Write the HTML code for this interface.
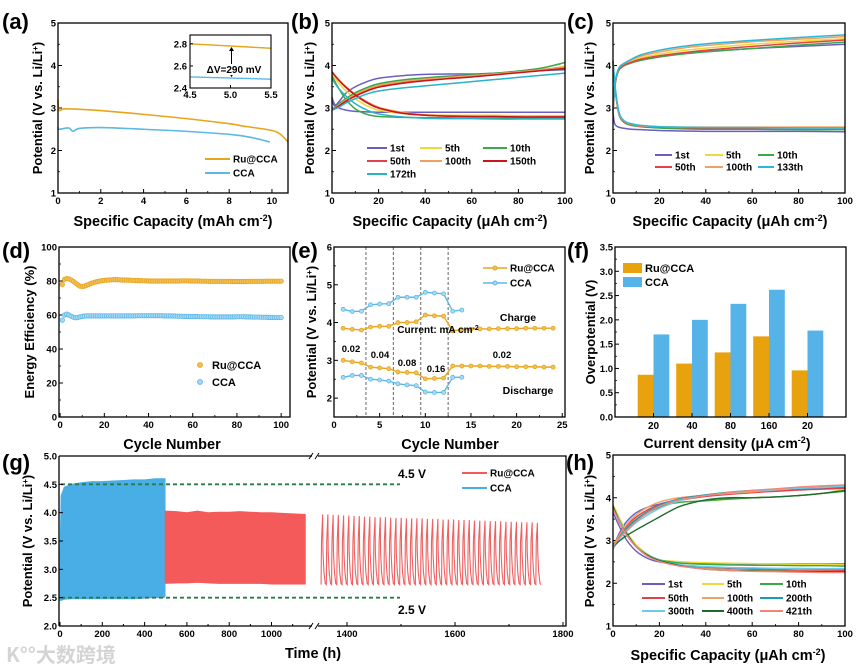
<!DOCTYPE html>
<html><head><meta charset="utf-8">
<style>
html,body{margin:0;padding:0;background:#fff;}
svg{display:block;font-family:"Liberation Sans","Noto Sans CJK SC",sans-serif;}
text{font-weight:bold;}
</style></head>
<body>
<svg id="fig" xmlns="http://www.w3.org/2000/svg" width="859" height="667" viewBox="0 0 859 667">
<text x="6" y="662" font-size="20" fill="#d4d4d4" font-weight="normal" style="font-family:'Noto Sans CJK SC',sans-serif">K°°大数跨境</text>
</svg>
<script>
// ---------- DATA ----------
// (a)
const aRuX=[0,0.05,0.3,1,2,4,6,8,8.7,9,10,10.4,10.75];
const aRuY=[3.2,2.95,2.98,2.97,2.94,2.85,2.75,2.63,2.57,2.55,2.47,2.38,2.2];
const aCcaX=[0,0.05,0.5,0.7,1,2,4,6,8,9,9.9];
const aCcaY=[2.55,2.5,2.53,2.45,2.52,2.54,2.5,2.45,2.38,2.31,2.2];
const insetX=[4.5,5.5];
const insetRu=[2.8,2.76];
const insetCca=[2.5,2.48];
// (b)
const bQ=[0,1,3,6,10,15,20,30,40,50,60,70,80,90,100];
const bNames=['1st','5th','10th','50th','100th','150th','172th'];
const bCharge=[
[3.25,3.05,3.15,3.35,3.5,3.62,3.7,3.76,3.79,3.8,3.8,3.82,3.85,3.88,3.9],
[2.95,3.0,3.08,3.2,3.33,3.45,3.55,3.65,3.7,3.73,3.77,3.8,3.84,3.9,3.98],
[2.95,3.0,3.1,3.22,3.36,3.48,3.57,3.66,3.71,3.75,3.78,3.82,3.87,3.94,4.07],
[2.95,2.98,3.05,3.17,3.3,3.42,3.5,3.6,3.66,3.71,3.75,3.8,3.85,3.9,3.96],
[2.95,2.99,3.07,3.19,3.32,3.44,3.53,3.62,3.68,3.72,3.76,3.8,3.85,3.9,3.95],
[2.95,2.98,3.05,3.16,3.28,3.4,3.49,3.58,3.64,3.69,3.73,3.78,3.83,3.88,3.93],
[2.95,2.97,3.02,3.12,3.22,3.33,3.4,3.47,3.52,3.57,3.62,3.67,3.72,3.77,3.82]];
const bDis=[
[3.25,3.1,3.0,2.95,2.92,2.91,2.9,2.9,2.9,2.9,2.9,2.9,2.9,2.9,2.9],
[3.8,3.72,3.58,3.4,3.22,3.05,2.95,2.87,2.84,2.83,2.83,2.83,2.82,2.82,2.82],
[3.75,3.65,3.45,3.2,2.98,2.85,2.8,2.78,2.77,2.77,2.76,2.76,2.76,2.76,2.76],
[3.85,3.78,3.65,3.48,3.3,3.12,3.0,2.88,2.83,2.81,2.8,2.8,2.79,2.79,2.79],
[3.85,3.78,3.66,3.5,3.32,3.15,3.02,2.9,2.84,2.82,2.81,2.8,2.8,2.8,2.8],
[3.85,3.78,3.65,3.49,3.31,3.13,3.0,2.88,2.83,2.81,2.8,2.8,2.79,2.79,2.79],
[3.7,3.6,3.45,3.28,3.1,2.95,2.86,2.79,2.76,2.75,2.75,2.74,2.74,2.74,2.74]];
// (c)
const cQ=[0,0.5,1,2,3,5,8,12,20,30,40,60,80,100];
const cNames=['1st','5th','10th','50th','100th','133th'];
const cCharge=[
[2.9,3.3,3.6,3.85,3.95,4.02,4.08,4.15,4.22,4.28,4.33,4.4,4.45,4.5],
[2.95,3.35,3.62,3.85,3.95,4.03,4.1,4.18,4.27,4.35,4.41,4.5,4.57,4.63],
[2.95,3.3,3.58,3.82,3.92,4.0,4.06,4.12,4.2,4.27,4.32,4.4,4.48,4.55],
[2.95,3.33,3.6,3.84,3.94,4.02,4.08,4.15,4.23,4.3,4.36,4.45,4.53,4.6],
[3.0,3.38,3.64,3.86,3.97,4.05,4.13,4.22,4.32,4.41,4.47,4.56,4.62,4.68],
[3.0,3.4,3.66,3.87,3.98,4.06,4.15,4.25,4.36,4.45,4.51,4.59,4.66,4.72]];
const cDis=[
[2.9,2.68,2.6,2.56,2.54,2.52,2.5,2.49,2.47,2.46,2.45,2.45,2.45,2.44],
[4.1,3.75,3.45,3.05,2.82,2.68,2.62,2.58,2.55,2.54,2.54,2.54,2.55,2.55],
[4.05,3.7,3.4,3.0,2.78,2.65,2.59,2.56,2.53,2.51,2.5,2.5,2.49,2.49],
[4.1,3.72,3.42,3.02,2.8,2.67,2.61,2.57,2.55,2.54,2.53,2.53,2.53,2.53],
[4.1,3.74,3.44,3.04,2.81,2.68,2.62,2.58,2.56,2.55,2.55,2.55,2.55,2.55],
[4.12,3.76,3.46,3.06,2.83,2.69,2.63,2.59,2.56,2.55,2.54,2.54,2.53,2.53]];
// (d)
const dRu=[78,81,81.5,81.2,80.6,79.8,78.8,77.8,77,76.8,
77,77.5,78,78.6,79,79.4,79.7,80,80.2,80.4,
80.5,80.6,80.7,80.8,80.8,80.8,80.7,80.6,80.6,80.5,
80.5,80.4,80.4,80.3,80.3,80.2,80.2,80.1,80.1,80,
80,80,80,80,80,80,80,80,80,80,
80,80,80,80,80.1,80.1,80.1,80.1,80,80,
80,80,80,79.9,79.9,79.9,79.8,79.8,79.8,79.8,
79.8,79.8,79.8,79.8,79.8,79.8,79.8,79.7,79.7,79.7,
79.7,79.7,79.7,79.7,79.8,79.8,79.8,79.8,79.8,79.8,
79.8,79.8,79.9,79.9,79.9,79.9,79.9,79.9,79.9,79.9];
const dCca=[57,60,60.5,60,59.3,58.7,58.4,58.5,58.9,59.2,
59.4,59.5,59.5,59.5,59.5,59.5,59.5,59.5,59.5,59.5,
59.5,59.5,59.5,59.5,59.5,59.5,59.5,59.5,59.5,59.5,
59.5,59.5,59.5,59.5,59.6,59.6,59.6,59.6,59.6,59.6,
59.6,59.6,59.6,59.6,59.6,59.6,59.5,59.5,59.5,59.5,
59.4,59.4,59.3,59.3,59.3,59.2,59.2,59.2,59.1,59.1,
59.1,59.1,59,59,59,59,59,58.9,58.9,58.9,
58.9,58.9,58.9,58.9,58.9,58.9,58.9,58.9,58.9,59,
59,59,59,58.9,58.9,58.9,58.8,58.8,58.8,58.8,
58.7,58.7,58.7,58.6,58.6,58.6,58.5,58.5,58.5,58.5];
// (e)
const eCyc=[1,2,3,4,5,6,7,8,9,10,11,12,13,14,15,16,17,18,19,20,21,22,23,24];
const eRuCh=[3.85,3.82,3.8,3.88,3.9,3.9,4.0,4.0,4.02,4.2,4.18,4.17,3.78,3.81,3.82,3.83,3.83,3.84,3.84,3.84,3.85,3.85,3.85,3.85];
const eRuDis=[3.0,2.96,2.93,2.82,2.8,2.78,2.69,2.68,2.67,2.51,2.52,2.53,2.85,2.85,2.85,2.85,2.84,2.84,2.84,2.83,2.83,2.83,2.82,2.82];
const eCcaCh=[4.35,4.29,4.3,4.47,4.49,4.5,4.67,4.67,4.67,4.8,4.78,4.76,4.3,4.33];
const eCcaDis=[2.55,2.6,2.6,2.5,2.48,2.45,2.38,2.35,2.33,2.16,2.15,2.15,2.55,2.55];
const eSteps=[3.5,6.5,9.5,12.5];
// (f)
const fCats=['20','40','80','160','20'];
const fRu=[0.87,1.1,1.33,1.66,0.96];
const fCca=[1.7,2.0,2.33,2.62,1.78];
// (g)
const gCcaT=[0,5,20,50,100,150,200,250,300,350,400,450,490,497];
const gCcaUp=[3.3,4.3,4.45,4.5,4.53,4.55,4.55,4.56,4.57,4.58,4.58,4.6,4.6,4.6];
const gCcaLo=[2.45,2.45,2.47,2.48,2.48,2.48,2.48,2.48,2.48,2.48,2.49,2.5,2.5,2.52];
const gRuT=[497,550,600,650,700,750,800,850,900,950,1000,1050,1100,1160];
const gRuUp=[4.03,4.02,4.0,4.03,4.0,4.01,4.01,4.02,4.01,4.0,4.0,3.99,3.98,3.97];
const gRuLo=[2.75,2.76,2.76,2.77,2.76,2.75,2.75,2.75,2.75,2.75,2.74,2.74,2.74,2.74];
const gSparseStart=1352;
const gPeriod=9.7;
const gPeaks=[3.97,3.97,3.96,3.96,3.95,3.95,3.94,3.94,3.93,3.93,3.92,3.92,3.92,3.91,3.91,3.91,3.9,3.9,3.9,3.9,3.89,3.89,3.89,3.88,3.88,3.88,3.87,3.87,3.87,3.86,3.86,3.86,3.85,3.85,3.85,3.84,3.84,3.84,3.83,3.83,3.83,3.82];
const gTrough=[2.73];
// (h)
const hQ=[0,3,6,10,15,20,25,30,40,50,60,70,80,90,100];
const hNames=['1st','5th','10th','50th','100th','200th','300th','400th','421th'];
const hCharge=[
[2.85,3.2,3.45,3.65,3.78,3.85,3.92,3.97,4.05,4.1,4.14,4.17,4.2,4.22,4.25],
[2.9,3.1,3.3,3.5,3.68,3.8,3.87,3.9,3.93,3.96,4.0,4.02,4.05,4.1,4.2],
[2.9,3.1,3.28,3.47,3.65,3.78,3.86,3.9,3.93,3.97,4.0,4.02,4.05,4.1,4.15],
[2.85,3.15,3.35,3.55,3.72,3.83,3.9,3.95,4.03,4.08,4.12,4.15,4.18,4.2,4.22],
[2.85,3.15,3.38,3.6,3.78,3.9,3.97,4.01,4.06,4.1,4.14,4.18,4.22,4.25,4.3],
[2.8,3.1,3.3,3.5,3.68,3.82,3.92,3.99,4.07,4.13,4.17,4.2,4.22,4.24,4.27],
[2.8,3.05,3.22,3.42,3.6,3.75,3.86,3.95,4.05,4.12,4.16,4.19,4.22,4.24,4.27],
[2.85,3.0,3.12,3.25,3.4,3.55,3.7,3.82,3.95,4.0,4.0,4.02,4.05,4.1,4.17],
[2.85,3.08,3.25,3.45,3.65,3.8,3.9,3.97,4.05,4.12,4.17,4.21,4.25,4.28,4.3]];
const hDis=[
[3.65,3.3,3.0,2.75,2.58,2.5,2.48,2.47,2.46,2.46,2.45,2.45,2.45,2.45,2.45],
[3.85,3.5,3.2,2.9,2.68,2.55,2.52,2.5,2.48,2.47,2.46,2.45,2.44,2.44,2.43],
[3.8,3.45,3.15,2.87,2.66,2.55,2.5,2.47,2.44,2.43,2.42,2.42,2.41,2.41,2.4],
[3.75,3.4,3.12,2.85,2.63,2.52,2.45,2.4,2.36,2.33,2.32,2.31,2.3,2.3,2.3],
[3.75,3.42,3.14,2.86,2.64,2.52,2.45,2.4,2.35,2.32,2.3,2.29,2.28,2.28,2.27],
[3.78,3.44,3.15,2.87,2.66,2.54,2.47,2.42,2.38,2.36,2.35,2.34,2.34,2.33,2.33],
[3.78,3.44,3.15,2.87,2.66,2.54,2.47,2.43,2.39,2.37,2.36,2.35,2.35,2.34,2.34],
[3.8,3.4,3.15,2.85,2.65,2.53,2.46,2.4,2.33,2.3,2.29,2.28,2.27,2.27,2.27],
[3.75,3.4,3.12,2.85,2.63,2.51,2.44,2.39,2.33,2.3,2.28,2.27,2.26,2.25,2.25]];

// ---------- HELPERS ----------
const NS='http://www.w3.org/2000/svg';
const svg=document.getElementById('fig');
function mk(tag,attrs,name,parent){
  const e=document.createElementNS(NS,tag);
  for(const k in attrs) e.setAttribute(k,attrs[k]);
  
  
  (parent||svg).appendChild(e);
  return e;
}
function txt(x,y,s,size,name,opts){
  opts=opts||{};
  const t=mk('text',{x:x,y:y,'font-size':size,'text-anchor':opts.anchor||'start',fill:opts.fill||'#000'},name);
  if(opts.rot) t.setAttribute('transform','rotate(-90 '+x+' '+y+')');
  if(opts.len) t.setAttribute('textLength',opts.len);
  t.textContent=s;
  return t;
}
function axes(l,r,t,b,x0,x1,y0,y1){
  return {l,r,t,b,sx:v=>l+(v-x0)/(x1-x0)*(r-l),sy:v=>b-(v-y0)/(y1-y0)*(b-t)};
}
function frame(ax,name){
  mk('rect',{x:ax.l,y:ax.t,width:ax.r-ax.l,height:ax.b-ax.t,fill:'none',stroke:'#000','stroke-width':1.3},name);
}
function xTicks(ax,vals,labels,minor,name){
  vals.forEach((v,i)=>{
    const x=ax.sx(v);
    mk('line',{x1:x,x2:x,y1:ax.b,y2:ax.b-4,stroke:'#000','stroke-width':1},name+'-tick');
    txt(x,ax.b+11,labels[i],9.5,name+'-label',{anchor:'middle'});
  });
  (minor||[]).forEach(v=>{const x=ax.sx(v);
    mk('line',{x1:x,x2:x,y1:ax.b,y2:ax.b-2,stroke:'#000','stroke-width':0.8},name+'-minor-tick');});
}
function yTicks(ax,vals,labels,minor,name){
  vals.forEach((v,i)=>{
    const y=ax.sy(v);
    mk('line',{x1:ax.l,x2:ax.l+4,y1:y,y2:y,stroke:'#000','stroke-width':1},name+'-tick');
    txt(ax.l-2,y+3.5,labels[i],9.5,name+'-label',{anchor:'end'});
  });
  (minor||[]).forEach(v=>{const y=ax.sy(v);
    mk('line',{x1:ax.l,x2:ax.l+2,y1:y,y2:y,stroke:'#000','stroke-width':0.8},name+'-minor-tick');});
}
function smoothPath(pts){
  if(pts.length<3) return 'M'+pts.map(p=>p.join(',')).join('L');
  let d='M'+pts[0][0].toFixed(2)+','+pts[0][1].toFixed(2);
  for(let i=0;i<pts.length-1;i++){
    const p0=pts[Math.max(0,i-1)],p1=pts[i],p2=pts[i+1],p3=pts[Math.min(pts.length-1,i+2)];
    const c1=[p1[0]+(p2[0]-p0[0])/6,p1[1]+(p2[1]-p0[1])/6];
    const c2=[p2[0]-(p3[0]-p1[0])/6,p2[1]-(p3[1]-p1[1])/6];
    d+='C'+c1.map(v=>v.toFixed(2)).join(',')+' '+c2.map(v=>v.toFixed(2)).join(',')+' '+p2[0].toFixed(2)+','+p2[1].toFixed(2);
  }
  return d;
}
function curve(ax,xs,ys,color,w,name,smooth){
  const pts=xs.map((x,i)=>[ax.sx(x),ax.sy(ys[i])]);
  const d=smooth===false?'M'+pts.map(p=>p[0].toFixed(2)+','+p[1].toFixed(2)).join('L'):smoothPath(pts);
  return mk('path',{d:d,fill:'none',stroke:color,'stroke-width':w,'stroke-linejoin':'round'},name);
}
function legLine(x1,x2,y,color,label,name,w){
  mk('line',{x1:x1,x2:x2,y1:y,y2:y,stroke:color,'stroke-width':w||2},name+'-swatch');
  txt(x2+3,y+3.5,label,10,name+'-label');
}
const ORG='#e8a51c', BLU='#5cb8e6';
const cyc={'1st':'#6a5fc1','5th':'#ecd93a','10th':'#3aa84a','50th':'#e5404a','100th':'#f0a060','150th':'#c8141c','172th':'#29b3c6','133th':'#29b8d8','200th':'#1b9bb5','300th':'#6ccbea','400th':'#1d6b2e','421th':'#f28478'};
const potLabel='Potential (V vs. Li/Li';
function potTitle(x,cy,name){
  const t=txt(x,cy,'',13,name,{anchor:'middle',rot:true});
  t.textContent=potLabel;
  const s=mk('tspan',{'baseline-shift':'super','font-size':8},name+'-superscript',t); s.textContent='+';
  const e=mk('tspan',{},name+'-close',t); e.textContent=')';
}
function capTitle(cx,y,unit,name){
  const t=txt(cx,y,'Specific Capacity (',14.5,name,{anchor:'middle'});
  const u=mk('tspan',{},name+'-unit',t); u.textContent=unit+' cm';
  const s=mk('tspan',{'baseline-shift':'super','font-size':9},name+'-superscript',t); s.textContent='-2';
  const e=mk('tspan',{},name+'-close',t); e.textContent=')';
}
function panelLabel(x,y,s,name){ txt(x,y,s,22,name); }

// ---------- (a) ----------
(function(){
  const ax=axes(58,288,23,193,0,10.75,1,5);
  panelLabel(2,29,'(a)','panel-label-a');
  xTicks(ax,[0,2,4,6,8,10],['0','2','4','6','8','10'],[1,3,5,7,9],'a-x');
  yTicks(ax,[1,2,3,4,5],['1','2','3','4','5'],[1.5,2.5,3.5,4.5],'a-y');
  curve(ax,aRuX,aRuY,ORG,1.6,'a-ru-curve');
  curve(ax,aCcaX,aCcaY,BLU,1.6,'a-cca-curve');
  legLine(205,230,159,ORG,'Ru@CCA','a-legend-ru');
  legLine(205,230,173,BLU,'CCA','a-legend-cca');
  frame(ax,'a-frame');
  capTitle(173,226,'mAh','a-x-title');
  potTitle(42,108,'a-y-title');
  // inset
  const ia=axes(190,271,35,88,4.5,5.5,2.4,2.88);
  curve(ia,insetX,insetRu,ORG,1.4,'a-inset-ru',false);
  curve(ia,insetX,insetCca,BLU,1.4,'a-inset-cca',false);
  mk('rect',{x:190,y:35,width:81,height:53,fill:'none',stroke:'#000','stroke-width':1.1},'a-inset-frame');
  [2.4,2.6,2.8].forEach(v=>{const y=ia.sy(v);
    mk('line',{x1:190,x2:193,y1:y,y2:y,stroke:'#000'},'a-inset-ytick');
    txt(187,y+3.5,v.toFixed(1),9.5,'a-inset-ylabel',{anchor:'end'});});
  [4.5,5.0,5.5].forEach(v=>{const x=ia.sx(v);
    mk('line',{x1:x,x2:x,y1:88,y2:85,stroke:'#000'},'a-inset-xtick');
    txt(x,98,v.toFixed(1),9.5,'a-inset-xlabel',{anchor:'middle'});});
  const axx=ia.sx(5.0)+1;
  mk('line',{x1:axx,x2:axx,y1:ia.sy(2.78)+3,y2:ia.sy(2.49)-3,stroke:'#000','stroke-width':1},'a-inset-arrow');
  mk('path',{d:'M'+(axx-2.5)+','+(ia.sy(2.78)+5)+'L'+axx+','+(ia.sy(2.78)+1)+'L'+(axx+2.5)+','+(ia.sy(2.78)+5)+'Z',fill:'#000'},'a-inset-arrowhead-up');
  mk('path',{d:'M'+(axx-2.5)+','+(ia.sy(2.49)-5)+'L'+axx+','+(ia.sy(2.49)-1)+'L'+(axx+2.5)+','+(ia.sy(2.49)-5)+'Z',fill:'#000'},'a-inset-arrowhead-down');
  const bg=mk('rect',{x:205,y:64,width:62,height:11,fill:'#fff'},'a-inset-label-bg');
  txt(234,73,'\u0394V=290 mV',10,'a-inset-delta-label',{anchor:'middle'});
})();

// ---------- (b) ----------
(function(){
  const ax=axes(332,565,23,193,0,100,1,5);
  panelLabel(291,29,'(b)','panel-label-b');
  xTicks(ax,[0,20,40,60,80,100],['0','20','40','60','80','100'],[10,30,50,70,90],'b-x');
  yTicks(ax,[1,2,3,4,5],['1','2','3','4','5'],[1.5,2.5,3.5,4.5],'b-y');
  bNames.forEach((n,i)=>{
    curve(ax,bQ,bCharge[i],cyc[n],1.5,'b-charge-'+n);
    curve(ax,bQ,bDis[i],cyc[n],1.5,'b-discharge-'+n);
  });
  const cols=[[367,387],[420,442],[483,507]], rows=[148,161,174];
  bNames.forEach((n,i)=>{const c=cols[i%3], r=rows[Math.floor(i/3)];
    legLine(c[0],c[1],r,cyc[n],n,'b-legend-'+n);});
  frame(ax,'b-frame');
  capTitle(450,226,'\u03bcAh','b-x-title');
  potTitle(314,108,'b-y-title');
})();

// ---------- (c) ----------
(function(){
  const ax=axes(613,845,23,193,0,100,1,5);
  panelLabel(567,29,'(c)','panel-label-c');
  xTicks(ax,[0,20,40,60,80,100],['0','20','40','60','80','100'],[10,30,50,70,90],'c-x');
  yTicks(ax,[1,2,3,4,5],['1','2','3','4','5'],[1.5,2.5,3.5,4.5],'c-y');
  cNames.forEach((n,i)=>{
    curve(ax,cQ,cCharge[i],cyc[n],1.5,'c-charge-'+n);
    curve(ax,cQ,cDis[i],cyc[n],1.5,'c-discharge-'+n);
  });
  const cols=[[655,672],[705,723],[758,774]], rows=[155,167];
  cNames.forEach((n,i)=>{const c=cols[i%3], r=rows[Math.floor(i/3)];
    legLine(c[0],c[1],r,cyc[n],n,'c-legend-'+n);});
  frame(ax,'c-frame');
  capTitle(730,226,'\u03bcAh','c-x-title');
  potTitle(594,108,'c-y-title');
})();

// ---------- (d) ----------
(function(){
  const ax=axes(59,290,247,417,-0.5,104,0,100);
  panelLabel(2,258,'(d)','panel-label-d');
  xTicks(ax,[0,20,40,60,80,100],['0','20','40','60','80','100'],[10,30,50,70,90],'d-x');
  yTicks(ax,[0,20,40,60,80,100],['0','20','40','60','80','100'],[10,30,50,70,90],'d-y');
  dRu.forEach((v,i)=>{
    const c=mk('circle',{cx:ax.sx(i+1),cy:ax.sy(v),r:2.2,fill:'#f2c05a',stroke:ORG,'stroke-width':0.8},'d-ru-point');
  });
  dCca.forEach((v,i)=>{
    const c=mk('circle',{cx:ax.sx(i+1),cy:ax.sy(v),r:2.2,fill:'#a8daf5',stroke:BLU,'stroke-width':0.8},'d-cca-point');
  });
  mk('circle',{cx:200,cy:365,r:2.4,fill:'#f2c05a',stroke:ORG},'d-legend-ru-marker');
  txt(212,369,'Ru@CCA',11,'d-legend-ru-label');
  mk('circle',{cx:200,cy:382,r:2.4,fill:'#a8daf5',stroke:BLU},'d-legend-cca-marker');
  txt(212,386,'CCA',11,'d-legend-cca-label');
  frame(ax,'d-frame');
  txt(172,449,'Cycle Number',14.5,'d-x-title',{anchor:'middle'});
  txt(34,332,'Energy Efficiency (%)',13,'d-y-title',{anchor:'middle',rot:true});
})();

// ---------- (e) ----------
(function(){
  const ax=axes(334,565,247,417,0,25.3,1.5,6);
  panelLabel(291,258,'(e)','panel-label-e');
  xTicks(ax,[0,5,10,15,20,25],['0','5','10','15','20','25'],[2.5,7.5,12.5,17.5,22.5],'e-x');
  yTicks(ax,[2,3,4,5,6],['2','3','4','5','6'],[2.5,3.5,4.5,5.5],'e-y');
  eSteps.forEach(s=>{const x=ax.sx(s);
    mk('line',{x1:x,x2:x,y1:ax.t,y2:ax.b,stroke:'#666','stroke-width':1,'stroke-dasharray':'3,2'},'e-step-divider');});
  const series=[[eRuCh,ORG,'#f2c05a','e-ru-charge'],[eRuDis,ORG,'#f2c05a','e-ru-discharge'],[eCcaCh,BLU,'#a8daf5','e-cca-charge'],[eCcaDis,BLU,'#a8daf5','e-cca-discharge']];
  series.forEach(s=>{
    const xs=eCyc.slice(0,s[0].length);
    curve(ax,xs,s[0],s[1],1.4,s[3]+'-line',false);
    s[0].forEach((v,i)=>{mk('circle',{cx:ax.sx(xs[i]),cy:ax.sy(v),r:2,fill:s[2],stroke:s[1],'stroke-width':0.8},s[3]+'-point');});
  });
  legLine(483,507,268,ORG,'Ru@CCA','e-legend-ru',1.6);
  mk('circle',{cx:495,cy:268,r:2,fill:'#f2c05a',stroke:ORG},'e-legend-ru-marker');
  legLine(483,507,283,BLU,'CCA','e-legend-cca',1.6);
  mk('circle',{cx:495,cy:283,r:2,fill:'#a8daf5',stroke:BLU},'e-legend-cca-marker');
  txt(518,321,'Charge',10.5,'e-charge-label',{anchor:'middle'});
  txt(528,394,'Discharge',10.5,'e-discharge-label',{anchor:'middle'});
  const ct=txt(438,333,'Current: mA cm',10,'e-current-label',{anchor:'middle'});
  const cs=mk('tspan',{'baseline-shift':'super','font-size':7},'e-current-sup',ct); cs.textContent='-2';
  txt(351,352,'0.02',9.5,'e-rate-label-1',{anchor:'middle'});
  txt(380,358,'0.04',9.5,'e-rate-label-2',{anchor:'middle'});
  txt(407,366,'0.08',9.5,'e-rate-label-3',{anchor:'middle'});
  txt(436,372,'0.16',9.5,'e-rate-label-4',{anchor:'middle'});
  txt(502,358,'0.02',9.5,'e-rate-label-5',{anchor:'middle'});
  frame(ax,'e-frame');
  txt(450,449,'Cycle Number',14.5,'e-x-title',{anchor:'middle'});
  potTitle(316,332,'e-y-title');
})();

// ---------- (f) ----------
(function(){
  const ax=axes(615,846,247,417,0,6,0,3.5);
  panelLabel(567,258,'(f)','panel-label-f');
  yTicks(ax,[0,0.5,1,1.5,2,2.5,3,3.5],['0.0','0.5','1.0','1.5','2.0','2.5','3.0','3.5'],[0.25,0.75,1.25,1.75,2.25,2.75,3.25],'f-y');
  const bw=0.41;
  fCats.forEach((c,i)=>{
    const cx=i+1;
    mk('rect',{x:ax.sx(cx-bw),y:ax.sy(fRu[i]),width:ax.sx(cx)-ax.sx(cx-bw),height:ax.sy(0)-ax.sy(fRu[i]),fill:'#e8a20e'},'f-bar-ru-'+i);
    mk('rect',{x:ax.sx(cx),y:ax.sy(fCca[i]),width:ax.sx(cx)-ax.sx(cx-bw),height:ax.sy(0)-ax.sy(fCca[i]),fill:'#55b3e8'},'f-bar-cca-'+i);
    mk('line',{x1:ax.sx(cx),x2:ax.sx(cx),y1:ax.b,y2:ax.b-4,stroke:'#000'},'f-x-tick');
    txt(ax.sx(cx),ax.b+12,c,10,'f-x-label',{anchor:'middle'});
  });
  mk('rect',{x:623,y:263,width:19,height:10,fill:'#e8a20e'},'f-legend-ru-swatch');
  txt(645,272,'Ru@CCA',11,'f-legend-ru-label');
  mk('rect',{x:623,y:277,width:19,height:10,fill:'#55b3e8'},'f-legend-cca-swatch');
  txt(645,286,'CCA',11,'f-legend-cca-label');
  frame(ax,'f-frame');
  const t=txt(727,448,'Current density (\u03bcA cm',14,'f-x-title',{anchor:'middle'});
  const s=mk('tspan',{'baseline-shift':'super','font-size':9},'f-x-title-sup',t); s.textContent='-2';
  const e=mk('tspan',{},'f-x-title-close',t); e.textContent=')';
  txt(595,332,'Overpotential (V)',13,'f-y-title',{anchor:'middle',rot:true});
})();

// ---------- (g) ----------
(function(){
  const l=59,r=566,t=456,b=626;
  const sy=v=>b-(v-2)/3*(b-t);
  const sx=tt=> tt<=1220 ? 60+tt*0.2115 : 347+(tt-1400)*0.54;
  panelLabel(2,470,'(g)','panel-label-g');
  // CCA dense block
  let d='M'+gCcaT.map((tt,i)=>sx(tt).toFixed(2)+','+sy(gCcaUp[i]).toFixed(2)).join('L');
  for(let i=gCcaT.length-1;i>=0;i--) d+='L'+sx(gCcaT[i]).toFixed(2)+','+sy(gCcaLo[i]).toFixed(2);
  mk('path',{d:d+'Z',fill:'#4aaee6',stroke:'#4aaee6','stroke-width':0.8},'g-cca-cycling-block');
  // Ru dense block
  d='M'+gRuT.map((tt,i)=>sx(tt).toFixed(2)+','+sy(gRuUp[i]).toFixed(2)).join('L');
  for(let i=gRuT.length-1;i>=0;i--) d+='L'+sx(gRuT[i]).toFixed(2)+','+sy(gRuLo[i]).toFixed(2);
  mk('path',{d:d+'Z',fill:'#f45a5a',stroke:'#f45a5a','stroke-width':0.8},'g-ru-cycling-block');
  // Ru sparse cycles
  let sp='';
  gPeaks.forEach((pk,i)=>{
    const t0=gSparseStart+i*gPeriod;
    const tr=gTrough[0];
    const pts=[[t0,tr],[t0+0.08*gPeriod,3.5],[t0+0.3*gPeriod,pk],[t0+0.36*gPeriod,3.3],[t0+0.55*gPeriod,2.95],[t0+0.8*gPeriod,tr+0.02],[t0+gPeriod,tr]];
    pts.forEach((p,j)=>{sp+=((i===0&&j===0)?'M':'L')+sx(p[0]).toFixed(2)+','+sy(p[1]).toFixed(2);});
  });
  mk('path',{d:sp,fill:'none',stroke:'#f06060','stroke-width':1.1},'g-ru-sparse-cycles');
  // limit lines
  mk('line',{x1:61,x2:400,y1:sy(4.5),y2:sy(4.5),stroke:'#2a7a4a','stroke-width':1.8,'stroke-dasharray':'4,3'},'g-limit-4-5v');
  mk('line',{x1:61,x2:400,y1:sy(2.5),y2:sy(2.5),stroke:'#2a7a4a','stroke-width':1.8,'stroke-dasharray':'4,3'},'g-limit-2-5v');
  txt(412,478,'4.5 V',12,'g-label-4-5v',{anchor:'middle'});
  txt(412,614,'2.5 V',12,'g-label-2-5v',{anchor:'middle'});
  legLine(462,487,473,'#f45a5a','Ru@CCA','g-legend-ru');
  legLine(462,487,488,'#4aaee6','CCA','g-legend-cca');
  // frame with break
  mk('path',{d:'M'+l+','+t+'H312M318,'+t+'H'+r+'V'+b+'H318M312,'+b+'H'+l+'Z',fill:'none',stroke:'#000','stroke-width':1.3},'g-frame');
  mk('path',{d:'M'+l+','+b+'V'+t,fill:'none',stroke:'#000','stroke-width':1.3},'g-frame-left');
  [[t],[b]].forEach((yy,k)=>{
    mk('path',{d:'M309,'+(yy[0]+3)+'L313,'+(yy[0]-3)+'M315,'+(yy[0]+3)+'L319,'+(yy[0]-3),stroke:'#000','stroke-width':1,fill:'none'},'g-axis-break');
  });
  [2,2.5,3,3.5,4,4.5,5].forEach(v=>{const y=sy(v);
    mk('line',{x1:l,x2:l+4,y1:y,y2:y,stroke:'#000'},'g-y-tick');
    txt(l-2,y+3.5,v.toFixed(1),9.5,'g-y-label',{anchor:'end'});});
  const gxt=[0,200,400,600,800,1000,1400,1600,1800];
  gxt.forEach(v=>{const x=sx(v);
    mk('line',{x1:x,x2:x,y1:b,y2:b-4,stroke:'#000'},'g-x-tick');
    txt(x,b+11,String(v),9.5,'g-x-label',{anchor:'middle'});});
  [100,300,500,700,900,1100,1500,1700].forEach(v=>{const x=sx(v);
    mk('line',{x1:x,x2:x,y1:b,y2:b-2,stroke:'#000'},'g-x-minor-tick');});
  txt(313,658,'Time (h)',14.5,'g-x-title',{anchor:'middle'});
  potTitle(32,541,'g-y-title');
})();

// ---------- (h) ----------
(function(){
  const ax=axes(613,845,455,626,0,100,1,5);
  panelLabel(566,470,'(h)','panel-label-h');
  xTicks(ax,[0,20,40,60,80,100],['0','20','40','60','80','100'],[10,30,50,70,90],'h-x');
  yTicks(ax,[1,2,3,4,5],['1','2','3','4','5'],[1.5,2.5,3.5,4.5],'h-y');
  hNames.forEach((n,i)=>{
    curve(ax,hQ,hCharge[i],cyc[n],1.4,'h-charge-'+n);
    curve(ax,hQ,hDis[i],cyc[n],1.4,'h-discharge-'+n);
  });
  const cols=[[642,665],[702,724],[760,783]], rows=[584,598,611];
  hNames.forEach((n,i)=>{const c=cols[i%3], r=rows[Math.floor(i/3)];
    legLine(c[0],c[1],r,cyc[n],n,'h-legend-'+n);});
  frame(ax,'h-frame');
  capTitle(728,660,'\u03bcAh','h-x-title');
  potTitle(594,541,'h-y-title');
})();
</script>
</body></html>
